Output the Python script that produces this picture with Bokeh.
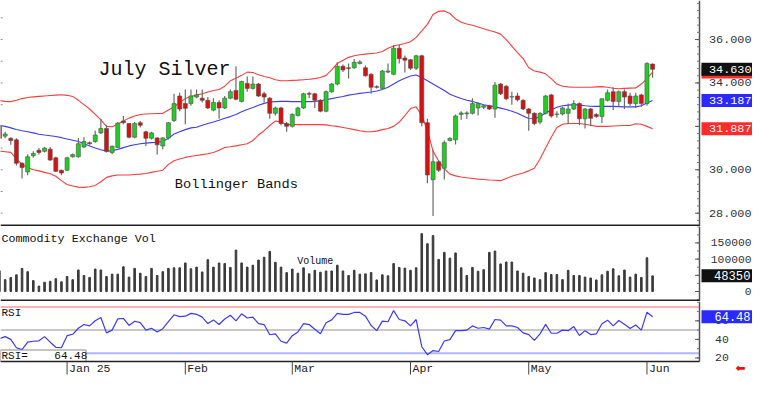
from bokeh.plotting import figure
from bokeh.layouts import column
from bokeh.models import Range1d, ColumnDataSource
from bokeh.core.properties import value
from bokeh.embed import file_html
from bokeh.resources import INLINE

# ---------------- data ----------------
opens = [32.00, 31.55, 31.45, 31.38, 30.30, 29.90, 30.65, 30.90, 30.85, 30.95,
         30.55, 29.98, 29.98, 30.60, 30.60, 31.05, 31.25, 31.30, 31.70, 31.90,
         30.80, 31.03, 32.25, 32.13, 31.50, 32.17, 31.75, 31.45, 31.47, 31.10,
         31.47, 32.27, 33.40, 33.05, 33.05, 33.35, 33.30, 33.20, 32.75, 33.10,
         32.85, 33.30, 33.65, 33.15, 33.98, 33.75, 33.95, 33.50, 33.30, 32.60,
         32.85, 32.13, 32.00, 32.50, 32.85, 33.52, 33.50, 33.20, 32.70, 33.60,
         33.95, 34.77, 34.70, 34.70, 34.90, 34.70, 34.40, 33.83, 33.75, 34.50,
         34.40, 35.60, 35.15, 35.07, 34.68, 35.25, 32.17, 29.54, 30.37, 30.07,
         31.35, 31.38, 32.55, 32.58, 32.60, 32.85, 32.88, 32.95, 32.80, 33.95,
         33.85, 33.35, 33.40, 33.20, 32.80, 32.60, 32.20, 32.60, 33.45, 32.55,
         32.57, 32.60, 32.80, 33.05, 32.35, 32.80, 32.55, 32.45, 33.20, 33.60,
         33.15, 33.60, 33.40, 33.05, 33.45, 33.05, 34.87]
highs = [32.10, 31.75, 31.50, 31.45, 30.35, 30.70, 30.85, 31.00, 31.05, 31.05,
         30.60, 30.00, 30.60, 30.75, 31.47, 31.50, 31.30, 31.80, 32.35, 32.05,
         31.12, 32.20, 32.48, 32.15, 32.20, 32.25, 31.80, 31.75, 31.50, 31.50,
         32.20, 33.50, 33.55, 33.70, 33.70, 33.70, 33.70, 33.35, 33.30, 33.20,
         33.40, 33.70, 34.77, 34.10, 34.30, 34.30, 34.00, 33.60, 33.35, 32.90,
         32.90, 32.20, 32.60, 32.90, 33.55, 33.60, 33.55, 33.25, 33.65, 34.00,
         34.95, 34.85, 34.90, 35.10, 35.05, 34.80, 34.45, 33.90, 34.60, 34.90,
         35.75, 35.75, 35.27, 35.10, 35.30, 35.30, 32.35, 30.90, 30.45, 31.35,
         31.50, 32.55, 32.70, 32.70, 33.30, 33.10, 33.00, 33.00, 34.05, 34.00,
         33.90, 33.60, 33.55, 33.25, 32.85, 32.65, 32.65, 33.45, 33.50, 32.70,
         32.90, 33.05, 33.20, 33.10, 32.85, 32.85, 32.60, 33.30, 33.70, 33.80,
         33.65, 33.70, 33.55, 33.55, 33.50, 34.95, 34.90]
lows = [31.30, 31.45, 31.15, 30.20, 29.60, 29.75, 30.55, 30.70, 30.80, 30.40,
        29.90, 29.75, 29.95, 30.55, 30.55, 31.00, 31.15, 31.25, 31.65, 30.80,
        30.72, 31.00, 32.10, 31.45, 31.45, 31.95, 31.10, 31.40, 30.70, 30.95,
        31.40, 32.20, 32.70, 32.10, 32.95, 33.30, 33.10, 32.80, 32.70, 32.35,
        32.80, 33.25, 33.20, 33.10, 33.60, 33.70, 33.35, 33.10, 32.35, 32.50,
        32.05, 31.75, 31.95, 32.45, 32.80, 33.30, 32.85, 32.65, 32.65, 33.55,
        33.90, 34.50, 34.20, 34.65, 34.85, 34.30, 33.50, 33.75, 33.70, 34.45,
        34.35, 34.90, 34.48, 34.60, 34.60, 32.00, 29.38, 27.87, 29.90, 29.55,
        31.30, 31.16, 32.30, 32.35, 32.55, 32.50, 32.80, 32.75, 32.40, 33.45,
        33.20, 33.00, 33.15, 32.75, 31.80, 32.05, 32.10, 32.55, 32.40, 32.40,
        32.50, 32.10, 32.75, 32.05, 31.90, 32.00, 32.40, 32.15, 33.15, 32.75,
        32.90, 32.80, 32.95, 32.85, 32.90, 32.95, 34.24]
closes = [31.45, 31.65, 31.35, 30.30, 30.10, 30.60, 30.75, 30.80, 31.00, 30.45,
          29.93, 29.85, 30.55, 30.70, 31.20, 31.30, 31.20, 31.60, 31.90, 30.85,
          31.08, 32.15, 32.17, 31.50, 32.13, 32.05, 31.45, 31.70, 31.15, 31.47,
          32.17, 33.05, 32.80, 32.83, 33.40, 33.45, 33.20, 32.85, 33.10, 32.85,
          33.30, 33.60, 33.25, 34.07, 33.75, 33.95, 33.40, 33.35, 32.60, 32.85,
          32.13, 32.00, 32.55, 32.85, 33.50, 33.48, 33.20, 32.70, 33.60, 33.95,
          34.77, 34.60, 34.67, 34.95, 34.97, 34.33, 33.80, 33.80, 34.55, 34.55,
          35.60, 35.12, 35.05, 34.68, 35.25, 32.17, 29.76, 30.37, 29.98, 31.25,
          31.45, 32.48, 32.62, 32.62, 33.05, 33.05, 32.95, 32.80, 33.90, 33.50,
          33.27, 33.37, 33.23, 32.80, 32.60, 32.13, 32.60, 33.40, 32.48, 32.57,
          32.85, 32.80, 33.05, 32.35, 32.80, 32.37, 32.45, 33.27, 33.55, 33.15,
          33.60, 33.35, 33.05, 33.40, 33.05, 34.90, 34.63]
bb_upper = [33.19, 33.15, 33.14, 33.20, 33.28, 33.33, 33.36, 33.38, 33.40, 33.42,
            33.44, 33.46, 33.43, 33.38, 33.20, 33.00, 32.80, 32.55, 32.30, 32.00,
            31.98, 32.10, 32.25, 32.38, 32.48, 32.55, 32.57, 32.58, 32.59, 32.60,
            32.75, 32.90, 33.10, 33.28, 33.38, 33.45, 33.50, 33.58, 33.65, 33.70,
            33.85, 34.10, 34.22, 34.35, 34.50, 34.48, 34.38, 34.30, 34.24, 34.15,
            34.10, 34.10, 34.12, 34.13, 34.15, 34.17, 34.20, 34.25, 34.35, 34.60,
            34.90, 35.05, 35.18, 35.25, 35.30, 35.33, 35.36, 35.38, 35.45, 35.60,
            35.70, 35.76, 35.82, 35.90, 36.10, 36.40, 36.70, 37.15, 37.30, 37.32,
            37.20, 36.95, 36.80, 36.72, 36.66, 36.58, 36.50, 36.42, 36.35, 36.25,
            36.00, 35.70, 35.40, 35.12, 34.70, 34.55, 34.50, 34.42, 34.20, 33.95,
            33.85, 33.82, 33.80, 33.80, 33.80, 33.80, 33.82, 33.83, 33.80, 33.76,
            33.73, 33.75, 33.76, 33.77, 33.95, 34.20, 34.50]
bb_mid = [32.04, 32.00, 31.93, 31.86, 31.80, 31.75, 31.70, 31.64, 31.60, 31.57,
          31.53, 31.48, 31.42, 31.36, 31.30, 31.20, 31.10, 31.00, 30.92, 30.86,
          30.88, 30.94, 31.02, 31.10, 31.15, 31.20, 31.23, 31.25, 31.27, 31.30,
          31.45, 31.65, 31.75, 31.85, 31.93, 31.96, 32.05, 32.13, 32.20, 32.28,
          32.37, 32.45, 32.55, 32.67, 32.78, 32.87, 32.97, 33.06, 33.12, 33.14,
          33.15, 33.15, 33.14, 33.14, 33.14, 33.14, 33.15, 33.18, 33.23, 33.28,
          33.33, 33.38, 33.44, 33.48, 33.52, 33.55, 33.58, 33.63, 33.70, 33.80,
          33.95, 34.10, 34.22, 34.32, 34.37, 34.25, 34.10, 33.95, 33.80, 33.65,
          33.48, 33.38, 33.28, 33.20, 33.15, 33.08, 33.00, 32.95, 32.90, 32.84,
          32.78, 32.70, 32.60, 32.48, 32.36, 32.35, 32.45, 32.62, 32.75, 32.88,
          32.95, 32.98, 33.00, 32.98, 32.95, 32.93, 32.92, 32.92, 32.92, 32.92,
          32.91, 32.90, 32.90, 32.90, 32.95, 33.08, 33.187]
bb_lower = [30.86, 30.83, 30.80, 30.50, 30.25, 30.10, 30.00, 29.95, 29.88, 29.82,
            29.70, 29.50, 29.32, 29.25, 29.20, 29.19, 29.22, 29.28, 29.45, 29.65,
            29.72, 29.76, 29.76, 29.76, 29.78, 29.80, 29.83, 29.88, 29.93, 29.98,
            30.25, 30.42, 30.50, 30.57, 30.62, 30.66, 30.70, 30.74, 30.80, 30.90,
            31.03, 31.06, 31.10, 31.15, 31.20, 31.35, 31.60, 31.80, 32.04, 32.25,
            32.20, 32.08, 32.08, 32.08, 32.08, 32.08, 32.08, 32.08, 32.07, 32.03,
            32.00, 31.95, 31.90, 31.85, 31.80, 31.76, 31.75, 31.78, 31.85, 31.90,
            32.00, 32.20, 32.50, 32.82, 32.90, 32.50, 31.82, 30.86, 30.40, 30.05,
            29.80, 29.72, 29.67, 29.63, 29.60, 29.57, 29.55, 29.53, 29.52, 29.50,
            29.60, 29.70, 29.78, 29.85, 29.95, 30.07, 30.50, 31.00, 31.50, 31.95,
            32.10, 32.13, 32.13, 32.13, 32.10, 32.05, 32.00, 32.00, 32.00, 32.02,
            32.03, 32.04, 32.04, 32.12, 32.10, 32.00, 31.887]
volumes = [64300, 36600, 43400, 51500, 71400, 61300, 33600, 16700, 28600, 31500,
           39600, 29800, 46400, 36600, 66400, 49400, 43400, 69300, 66400, 46400,
           53600, 53600, 76200, 44600, 71400, 56500, 46400, 71400, 49400, 61300,
           71400, 73200, 73200, 88100, 70200, 75300, 60400, 98200, 75300, 88100,
           86300, 74400, 128000, 88100, 75300, 81200, 97000, 105900, 123800, 90200,
           75300, 58300, 69300, 56500, 73200, 54500, 65500, 59500, 63400, 63400,
           81200, 63400, 49400, 65500, 53600, 54500, 58300, 35700, 51500, 48500,
           86300, 74400, 72300, 65500, 73200, 178600, 147600, 172600, 99100, 120800,
           103000, 119000, 73200, 49400, 74400, 62500, 67300, 120800, 125000, 85100,
           91100, 91100, 63400, 56500, 46400, 41700, 36600, 58300, 52400, 52400,
           36600, 65500, 49400, 49400, 44600, 41700, 35700, 51500, 62500, 70200,
           48500, 66400, 44600, 53600, 43400, 104200, 48350]
rsi = [41.0, 43.0, 40.0, 31.0, 29.0, 37.0, 38.0, 38.5, 43.0, 37.0,
       31.5, 31.0, 44.0, 45.5, 52.0, 56.0, 54.5, 60.0, 63.5, 47.0,
       50.0, 62.0, 62.5, 55.0, 59.5, 58.0, 50.0, 52.0, 48.0, 51.5,
       59.0, 66.5, 64.5, 65.0, 68.0, 67.0, 64.0, 57.0, 61.0, 56.0,
       62.0, 66.0, 60.0, 67.5, 63.0, 64.0, 57.0, 56.0, 45.0, 46.0,
       38.0, 36.0, 44.0, 48.0, 57.0, 56.0, 51.0, 46.0, 58.0, 61.0,
       68.0, 67.0, 67.0, 69.0, 69.0, 65.0, 55.0, 49.4, 59.7, 59.0,
       71.0, 61.4, 60.0, 54.5, 61.4, 32.1, 23.5, 28.0, 27.0, 38.3,
       39.7, 49.4, 49.4, 50.0, 54.5, 52.0, 52.8, 51.1, 61.4, 60.7,
       54.5, 54.5, 52.8, 47.0, 45.2, 39.0, 45.9, 56.2, 46.6, 46.6,
       50.0, 49.4, 53.8, 44.2, 49.4, 45.2, 45.9, 56.9, 60.7, 54.5,
       60.3, 56.2, 51.8, 55.5, 50.0, 69.3, 64.48]

month_ticks = [12, 33, 52, 73, 94, 115]
month_labels = ["Jan 25", "Feb", "Mar", "Apr", "May", "Jun"]
price_ticks = [28, 30, 32, 34, 36]
price_minor_step = 1.0 / 3.0
vol_ticks = [0, 50000, 100000, 150000]
vol_minor_step = 25000
rsi_ticks = [20, 40, 60]
rsi_minor_step = 10
rsi_levels = [75, 50, 25]
rsi_level_colors = ["#ffb4b4", "#c8c8c8", "#b4b4ff"]

title_text = "July Silver"
bands_text = "Bollinger Bands"
vol_title = "Commodity Exchange Vol"
vol_label = "Volume"
rsi_title = "RSI"

# ---------------- geometry (pixels) ----------------
FONT = "Liberation Mono"
W = 752
PXU = 5.630          # pixels per bar
X0 = 0.174           # data x at the frame's left edge
AXPX = 699           # pixel column of the right axis line
H_P, H_V, H_R = 226, 75, 78
R_FRAME = 60         # rsi frame height inside the rsi figure (date strip below)
n = len(closes)
idx = list(range(n))


def xd(px):
    return X0 + px / PXU


AX = xd(AXPX)
xr = Range1d(X0, xd(W))


def make_fig(h, lo, hi):
    p = figure(width=W, height=h, x_range=xr, y_range=Range1d(lo, hi), output_backend="svg",
               toolbar_location=None, min_border=0, x_axis_location=None, y_axis_location=None)
    p.grid.visible = False
    p.outline_line_color = None
    p.background_fill_color = "white"
    p.border_fill_color = "white"
    return p


def ymap(h, lo, hi):
    return lambda px: hi - px / h * (hi - lo)


def txt(p, xs, ys, texts, size, color="#222222", align="left", baseline="middle", font=FONT):
    p.text(x=xs, y=ys, text=texts, text_font=value(font), text_font_size=value(size),
           text_color=color, text_align=align, text_baseline=baseline)


def axis_decor(p, yd, h_end, ticks, minor_step, lo_val, hi_val):
    p.segment(x0=[AX], y0=[yd(0)], x1=[AX], y1=[yd(h_end)], line_color="#555555", line_width=1.5)
    mt = []
    v = lo_val
    while v <= hi_val + 1e-9:
        mt.append(v)
        v += minor_step
    p.segment(x0=[AX - 2.5 / PXU] * len(mt), y0=mt, x1=[AX] * len(mt), y1=mt,
              line_color="#777777", line_width=1)
    p.segment(x0=[AX - 4.5 / PXU] * len(ticks), y0=ticks, x1=[AX] * len(ticks), y1=ticks,
              line_color="#555555", line_width=1)


def value_box(p, y, text, bg, size, text_x, align):
    p.rect(x=[xd(726.5)], y=[y], width=51, height=13, width_units="screen", height_units="screen",
           fill_color=bg, line_color=None)
    if text:
        txt(p, [text_x], [y], [text], size, color="white", align=align)


# ---- price panel ----
P_PXU = 21.706
P_HI = 36 + 39.05 / P_PXU
P_LO = P_HI - H_P / P_PXU
pr = make_fig(H_P, P_LO, P_HI)
ydp = ymap(H_P, P_LO, P_HI)

up = [c >= o for o, c in zip(opens, closes)]
src = ColumnDataSource(dict(
    x=idx, high=highs, low=lows,
    top=[max(o, c) for o, c in zip(opens, closes)],
    bottom=[min(o, c) for o, c in zip(opens, closes)],
    color=["#1fcf1f" if u else "#d81010" for u in up],
))
pr.line(idx, bb_upper, color="#ff3c3c", line_width=1.1)
pr.line(idx, bb_lower, color="#ff3c3c", line_width=1.1)
pr.line(idx, bb_mid, color="#3c3cff", line_width=1.1)
pr.segment(x0="x", y0="low", x1="x", y1="high", color="#6a6a6a", line_width=1.2, source=src)
pr.vbar(x="x", width=0.72, top="top", bottom="bottom", fill_color="color",
        line_color="#505050", line_width=0.6, source=src)

lt = list(range(28, 38))
pr.segment(x0=[X0] * len(lt), y0=lt, x1=[xd(2)] * len(lt), y1=lt, line_color="#888888", line_width=1)
axis_decor(pr, ydp, H_P, price_ticks, price_minor_step, 27 + 2 / 3, 37.8)
txt(pr, [xd(708.5)] * len(price_ticks), price_ticks, ["%.3f" % t for t in price_ticks], "11.8px",
    color="#333333")
pr.segment(x0=[X0], y0=[ydp(H_P - 1)], x1=[AX], y1=[ydp(H_P - 1)], line_color="#222222", line_width=2)

txt(pr, [xd(97.9)], [ydp(69.1)], [title_text], "20px", color="#111111", baseline="alphabetic")
txt(pr, [xd(174.3)], [ydp(184.2)], [bands_text], "13.7px", color="#111111", baseline="alphabetic")

value_box(pr, bb_upper[-1], "", "#ff2a2a", "11.8px", xd(708.5), "left")
value_box(pr, closes[-1], "%.3f" % closes[-1], "#111111", "11.8px", xd(708.5), "left")
value_box(pr, bb_mid[-1], "%.3f" % bb_mid[-1], "#2a2aff", "11.8px", xd(708.5), "left")
value_box(pr, bb_lower[-1], "%.3f" % bb_lower[-1], "#ff2a2a", "11.8px", xd(708.5), "left")

# ---- volume panel ----
V_PX50K = 16.19
V_HI = 65.0 / V_PX50K * 50000
V_LO = V_HI - H_V / V_PX50K * 50000
vo = make_fig(H_V, V_LO, V_HI)
ydv = ymap(H_V, V_LO, V_HI)
vo.vbar(x=idx, top=volumes, bottom=0, width=0.28, color="#3a3a3a")
axis_decor(vo, ydv, H_V, vol_ticks, vol_minor_step, -25000, 200000)
txt(vo, [xd(751)] * len(vol_ticks), vol_ticks, [str(t) for t in vol_ticks], "11.3px",
    color="#333333", align="right")
vo.segment(x0=[X0], y0=[ydv(H_V - 1)], x1=[AX], y1=[ydv(H_V - 1)], line_color="#222222", line_width=2)
txt(vo, [xd(1)], [ydv(12.3)], [vol_title], "11.7px", color="#111111", baseline="alphabetic")
txt(vo, [xd(296.7)], [ydv(34.9)], [vol_label], "10px", color="#111111", baseline="alphabetic")
value_box(vo, volumes[-1], str(volumes[-1]), "#111111", "12.2px", xd(750), "right")

# ---- RSI panel (with the date strip below it) ----
R_HI = 80.8
R_PXU = 0.9288
R_LO = R_HI - H_R / R_PXU
rs = make_fig(H_R, R_LO, R_HI)
ydr = ymap(H_R, R_LO, R_HI)
R_BOTTOM = ydr(R_FRAME)
rs.segment(x0=[X0] * 3, y0=rsi_levels, x1=[AX] * 3, y1=rsi_levels, line_color=rsi_level_colors,
           line_width=2)
rs.line(idx, rsi, color="#3a3aff", line_width=1.2)
axis_decor(rs, ydr, R_FRAME, rsi_ticks, rsi_minor_step, 20, 80)
txt(rs, [xd(714.5)] * len(rsi_ticks), rsi_ticks, [str(t) for t in rsi_ticks], "11.5px",
    color="#333333")
txt(rs, [xd(1)], [ydr(11.6)], [rsi_title], "11px", color="#111111", baseline="alphabetic")
rs.quad(left=[X0], right=[xd(85.5)], top=[ydr(48.5)], bottom=[ydr(R_FRAME)], fill_color="white",
        line_color="#8a8a8a", line_width=1)
txt(rs, [xd(1)], [ydr(54.5)], ["RSI=\u00a0\u00a0\u00a0\u00a0%.2f" % rsi[-1]], "11px",
    color="#111111", baseline="middle")
value_box(rs, rsi[-1], "%.2f" % rsi[-1], "#2a2aff", "12px", xd(750), "right")

# date axis strip
rs.segment(x0=[X0], y0=[R_BOTTOM], x1=[AX], y1=[R_BOTTOM], line_color="#222222", line_width=1.5)
rs.segment(x0=month_ticks, y0=[R_BOTTOM] * len(month_ticks), x1=month_ticks,
           y1=[ydr(R_FRAME + 13)] * len(month_ticks), line_color="#444444", line_width=1)
txt(rs, [t + 2 / PXU for t in month_ticks], [ydr(R_FRAME + 6.5)] * len(month_ticks), month_labels,
    "11.5px", color="#222222", baseline="middle")
txt(rs, [xd(735)], [ydr(R_FRAME + 6.5)], ["\u2b05"], "12px", color="#ee1111", font="DejaVu Sans")

layout = column(pr, vo, rs, spacing=0)
open("out.html", "w").write(file_html(layout, INLINE))
